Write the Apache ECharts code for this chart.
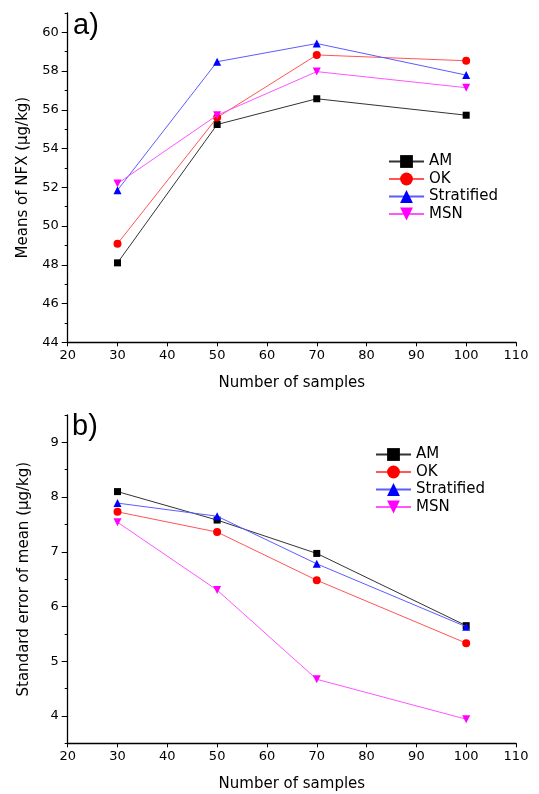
<!DOCTYPE html>
<html>
<head>
<meta charset="utf-8">
<script src="https://cdn.jsdelivr.net/npm/echarts@6/dist/echarts.min.js"></script>
<style>html,body{margin:0;padding:0;background:#fff;}#c{width:539px;height:794px;}</style>
</head>
<body>
<div id="c"></div>
<script>
const samples = [30, 50, 70, 100];
const seriesNames = ['AM', 'OK', 'Stratified', 'MSN'];
// Panel a: Means of NFX
const meanAM = [48.10, 55.24, 56.57, 55.72];
const meanOK = [49.09, 55.60, 58.83, 58.53];
const meanStrat = [51.85, 58.48, 59.42, 57.79];
const meanMSN = [52.19, 55.72, 57.97, 57.14];
// Panel b: Standard error of mean
const seAM = [8.10, 7.58, 6.97, 5.65];
const seOK = [7.73, 7.36, 6.48, 5.33];
const seStrat = [7.89, 7.65, 6.78, 5.63];
const seMSN = [7.54, 6.30, 4.67, 3.94];
const xTicks = [20, 30, 40, 50, 60, 70, 80, 90, 100, 110];
const yTicksA = [44, 46, 48, 50, 52, 54, 56, 58, 60];
const yTicksB = [4, 5, 6, 7, 8, 9];

const FONT = 'DejaVu Sans';
const styles = [
  {symbol: 'rect', size: 7, rot: 0, color: '#000000', line: '#333333'},
  {symbol: 'circle', size: 8, rot: 0, color: '#ff0000', line: '#ff5555'},
  {symbol: 'triangle', size: 8, rot: 0, color: '#0000ff', line: '#5c5cff'},
  {symbol: 'triangle', size: 8, rot: 180, color: '#ff00ff', line: '#ff55ff'}
];
const pair = v => samples.map((s, i) => [s, v[i]]);

function mkSeries(arrs, xi, yi) {
  return arrs.map((a, k) => ({
    name: seriesNames[k], type: 'line', xAxisIndex: xi, yAxisIndex: yi,
    data: pair(a), symbol: styles[k].symbol, symbolSize: styles[k].size,
    symbolRotate: styles[k].rot, showSymbol: true,
    itemStyle: {color: styles[k].color},
    lineStyle: {color: styles[k].line, width: 1},
    animation: false, z: 2 + k
  }));
}

function xAxis(gi) {
  return {
    type: 'value', gridIndex: gi, min: 20, max: 110, interval: 10,
    name: 'Number of samples', nameLocation: 'middle', nameGap: 33,
    nameTextStyle: {fontFamily: FONT, fontSize: 15, color: '#000'},
    axisLine: {lineStyle: {color: '#000', width: 1.3}},
    axisTick: {show: true, length: 4, lineStyle: {color: '#000'}},
    axisLabel: {fontFamily: FONT, fontSize: 13, color: '#000', margin: 7},
    splitLine: {show: false}
  };
}

function yMain(gi, min, max, ticks, name, gap) {
  return {
    type: 'value', gridIndex: gi, min: min, max: max,
    name: name, nameLocation: 'middle', nameGap: gap,
    nameTextStyle: {fontFamily: FONT, fontSize: 15, color: '#000'},
    axisLine: {show: true, lineStyle: {color: '#000', width: 1.3}},
    axisTick: {show: true, length: 6, customValues: ticks, lineStyle: {color: '#000'}},
    axisLabel: {fontFamily: FONT, fontSize: 13, color: '#000', margin: 9, customValues: ticks},
    splitLine: {show: false}
  };
}
function yMinor(gi, min, max, interval) {
  return {
    type: 'value', gridIndex: gi, min: min, max: max, interval: interval,
    position: 'left',
    axisLine: {show: false},
    axisTick: {show: true, length: 3, lineStyle: {color: '#000'}},
    axisLabel: {show: false},
    splitLine: {show: false}
  };
}

function legend(left, top) {
  return {
    data: seriesNames, left: left, top: top, orient: 'vertical',
    itemWidth: 35, itemHeight: 16, itemGap: 2.5,
    textStyle: {fontFamily: FONT, fontSize: 15, color: '#000'},
    selectedMode: false
  };
}

const chart = echarts.init(document.getElementById('c'), null, {renderer: 'canvas'});
const legA = legend(383, 149);
const legB = legend(370, 442);
legB.data = seriesNames.map(n => n);
chart.setOption({
  backgroundColor: '#fff',
  animation: false,
  grid: [
    {left: 67.7, right: 23, top: 12.9, height: 329.4},
    {left: 67.7, right: 23, top: 415, height: 328.3}
  ],
  xAxis: [xAxis(0), xAxis(1)],
  yAxis: [
    yMain(0, 44, 61, yTicksA, 'Means of NFX (μg/kg)', 37),
    yMinor(0, 44, 61, 1),
    yMain(1, 3.5, 9.5, yTicksB, 'Standard error of mean (μg/kg)', 36),
    yMinor(1, 3.5, 9.5, 0.5)
  ],
  legend: [legA, legB],
  graphic: [
    {type: 'text', left: 73, top: 11, style: {text: 'a)', font: '29px "Liberation Sans"', fill: '#000'}},
    {type: 'text', left: 72, top: 412, style: {text: 'b)', font: '29px "Liberation Sans"', fill: '#000'}}
  ],
  series: [].concat(
    mkSeries([meanAM, meanOK, meanStrat, meanMSN], 0, 0),
    mkSeries([seAM, seOK, seStrat, seMSN], 1, 2)
  )
});
</script>
</body>
</html>
